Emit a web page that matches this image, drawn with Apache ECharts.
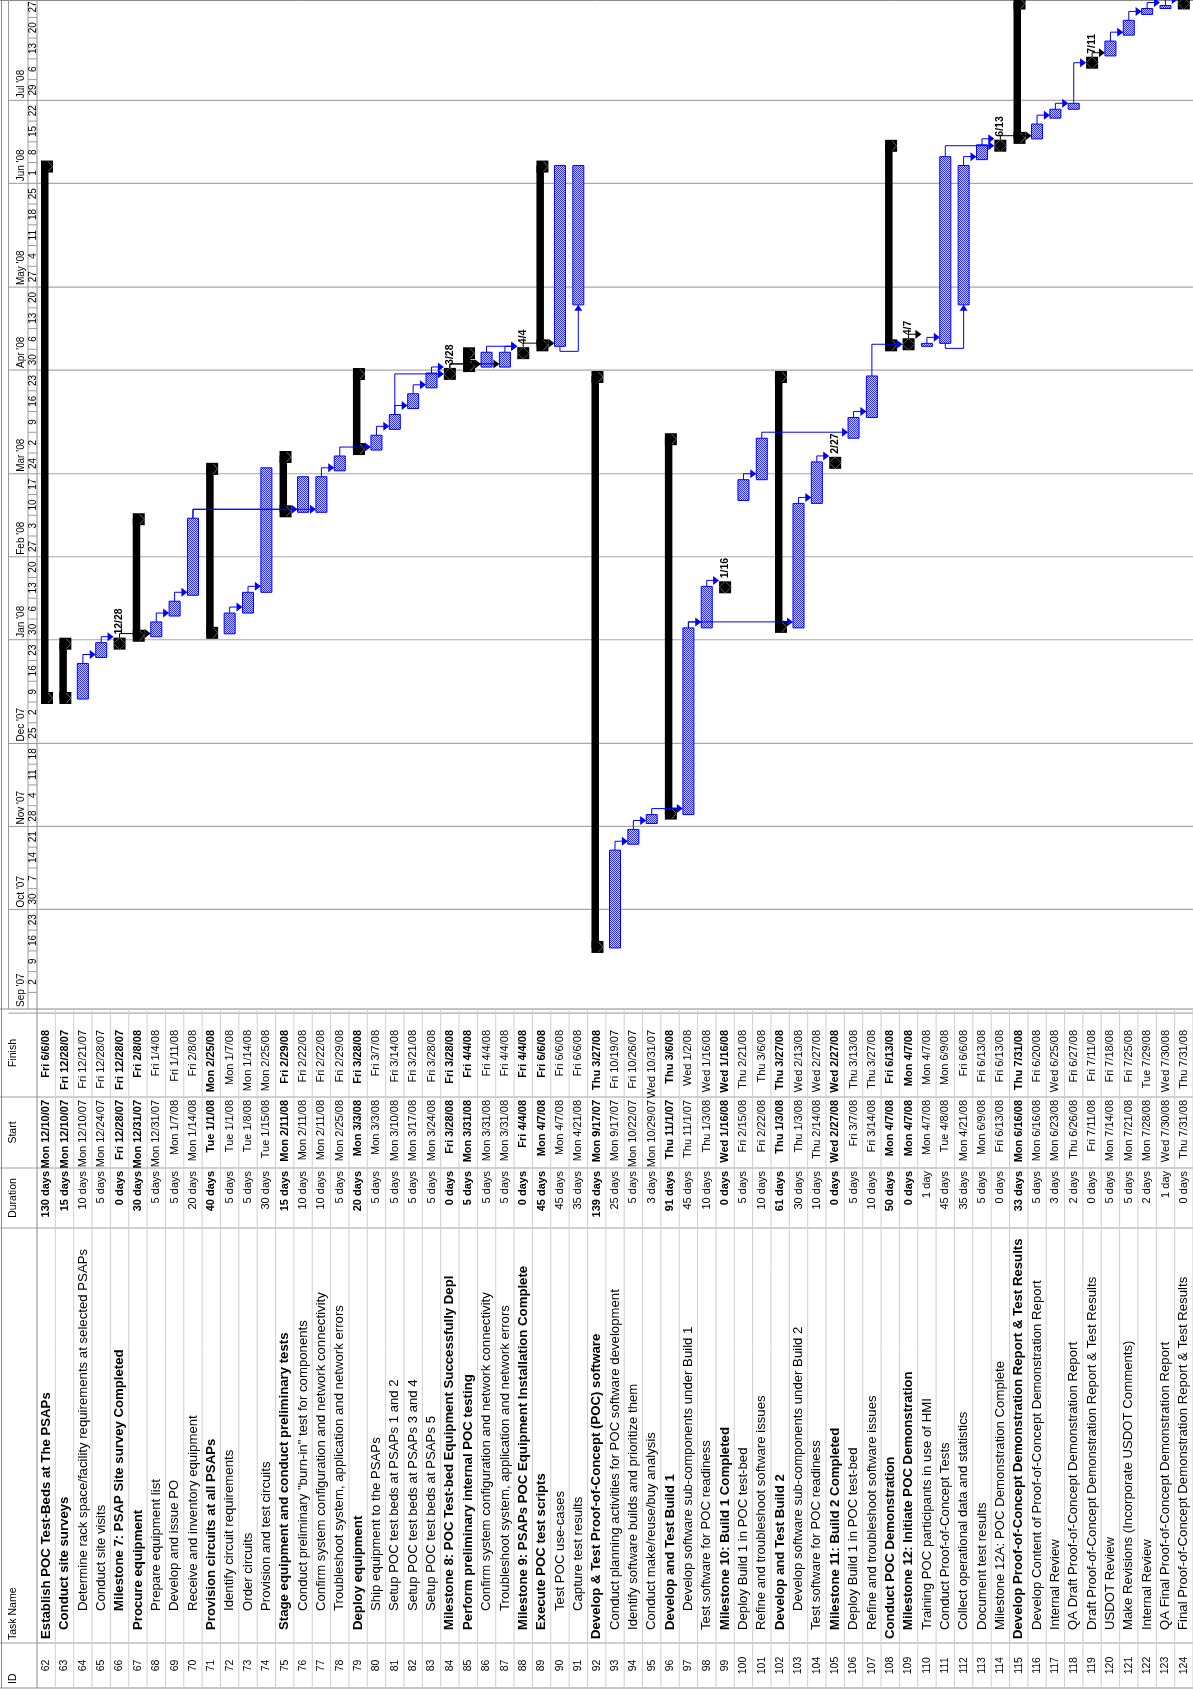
<!DOCTYPE html>
<html>
<head>
<meta charset="utf-8">
<script src="https://cdn.jsdelivr.net/npm/echarts@6/dist/echarts.min.js"></script>
<style>html,body{margin:0;padding:0;background:#fff}#c{width:1193px;height:1690px}</style>
</head>
<body>
<div id="c"></div>
<script>
// ---------------- DATA ----------------
const taskIds = [62,63,64,65,66,67,68,69,70,71,72,73,74,75,76,77,78,79,80,81,82,83,84,85,86,87,88,89,90,91,92,93,94,95,96,97,98,99,100,101,102,103,104,105,106,107,108,109,110,111,112,113,114,115,116,117,118,119,120,121,122,123,124];
const taskNames = [
 'Establish POC Test-Beds at The PSAPs','Conduct site surveys','Determine rack space/facility requirements at selected PSAPs','Conduct site visits','Milestone 7: PSAP Site survey Completed',
 'Procure equipment','Prepare equipment list','Develop and issue PO','Receive and inventory equipment','Provision circuits at all PSAPs',
 'Identify circuit requirements','Order circuits','Provision and test circuits','Stage equipment and conduct preliminary tests','Conduct preliminary "burn-in" test for components',
 'Confirm system configuration and network connectivity','Troubleshoot system, application and network errors','Deploy equipment','Ship equipment to the PSAPs','Setup POC test beds at PSAPs 1 and 2',
 'Setup POC test beds at PSAPs 3 and 4','Setup POC test beds at PSAPs 5','Milestone 8: POC Test-bed Equipment Successfully Depl','Perform preliminary internal POC testing','Confirm system configuration and network connectivity',
 'Troubleshoot system, application and network errors','Milestone 9: PSAPs POC Equipment Installation Complete','Execute POC test scripts','Test POC use-cases','Capture test results',
 'Develop & Test Proof-of-Concept (POC) software','Conduct planning activities for POC software development','Identify software builds and prioritize them','Conduct make/reuse/buy analysis','Develop and Test Build 1',
 'Develop software sub-components under Build 1','Test software for POC readiness','Milestone 10: Build 1 Completed','Deploy Build 1 in POC test-bed','Refine and troubleshoot software issues',
 'Develop and Test Build 2','Develop software sub-components under Build 2','Test software for POC readiness','Milestone 11: Build 2 Completed','Deploy Build 1 in POC test-bed',
 'Refine and troubleshoot software issues','Conduct POC Demonstration','Milestone 12: Initiate POC Demonstration','Training POC participants in use of HMI','Conduct Proof-of-Concept Tests',
 'Collect operational data and statistics','Document test results','Milestone 12A: POC Demonstration Complete','Develop Proof-of-Concept Demonstration Report & Test Results','Develop Content of Proof-of-Concept Demonstration Report',
 'Internal Review','QA Draft Proof-of-Concept Demonstration Report','Draft Proof-of-Concept Demonstration Report & Test Results','USDOT Review','Make Revisions (Incorporate USDOT Comments)',
 'Internal Review','QA Final Proof-of-Concept Demonstration Report','Final Proof-of-Concept Demonstration Report & Test Results'];
const durations = ['130 days','15 days','10 days','5 days','0 days','30 days','5 days','5 days','20 days','40 days','5 days','5 days','30 days','15 days','10 days','10 days','5 days','20 days','5 days','5 days','5 days','5 days','0 days','5 days','5 days','5 days','0 days','45 days','45 days','35 days','139 days','25 days','5 days','3 days','91 days','45 days','10 days','0 days','5 days','10 days','61 days','30 days','10 days','0 days','5 days','10 days','50 days','0 days','1 day','45 days','35 days','5 days','0 days','33 days','5 days','3 days','2 days','0 days','5 days','5 days','2 days','1 day','0 days'];
const starts = ['Mon 12/10/07','Mon 12/10/07','Mon 12/10/07','Mon 12/24/07','Fri 12/28/07','Mon 12/31/07','Mon 12/31/07','Mon 1/7/08','Mon 1/14/08','Tue 1/1/08','Tue 1/1/08','Tue 1/8/08','Tue 1/15/08','Mon 2/11/08','Mon 2/11/08','Mon 2/11/08','Mon 2/25/08','Mon 3/3/08','Mon 3/3/08','Mon 3/10/08','Mon 3/17/08','Mon 3/24/08','Fri 3/28/08','Mon 3/31/08','Mon 3/31/08','Mon 3/31/08','Fri 4/4/08','Mon 4/7/08','Mon 4/7/08','Mon 4/21/08','Mon 9/17/07','Mon 9/17/07','Mon 10/22/07','Mon 10/29/07','Thu 11/1/07','Thu 11/1/07','Thu 1/3/08','Wed 1/16/08','Fri 2/15/08','Fri 2/22/08','Thu 1/3/08','Thu 1/3/08','Thu 2/14/08','Wed 2/27/08','Fri 3/7/08','Fri 3/14/08','Mon 4/7/08','Mon 4/7/08','Mon 4/7/08','Tue 4/8/08','Mon 4/21/08','Mon 6/9/08','Fri 6/13/08','Mon 6/16/08','Mon 6/16/08','Mon 6/23/08','Thu 6/26/08','Fri 7/11/08','Mon 7/14/08','Mon 7/21/08','Mon 7/28/08','Wed 7/30/08','Thu 7/31/08'];
const finishes = ['Fri 6/6/08','Fri 12/28/07','Fri 12/21/07','Fri 12/28/07','Fri 12/28/07','Fri 2/8/08','Fri 1/4/08','Fri 1/11/08','Fri 2/8/08','Mon 2/25/08','Mon 1/7/08','Mon 1/14/08','Mon 2/25/08','Fri 2/29/08','Fri 2/22/08','Fri 2/22/08','Fri 2/29/08','Fri 3/28/08','Fri 3/7/08','Fri 3/14/08','Fri 3/21/08','Fri 3/28/08','Fri 3/28/08','Fri 4/4/08','Fri 4/4/08','Fri 4/4/08','Fri 4/4/08','Fri 6/6/08','Fri 6/6/08','Fri 6/6/08','Thu 3/27/08','Fri 10/19/07','Fri 10/26/07','Wed 10/31/07','Thu 3/6/08','Wed 1/2/08','Wed 1/16/08','Wed 1/16/08','Thu 2/21/08','Thu 3/6/08','Thu 3/27/08','Wed 2/13/08','Wed 2/27/08','Wed 2/27/08','Thu 3/13/08','Thu 3/27/08','Fri 6/13/08','Mon 4/7/08','Mon 4/7/08','Mon 6/9/08','Fri 6/6/08','Fri 6/13/08','Fri 6/13/08','Thu 7/31/08','Fri 6/20/08','Wed 6/25/08','Fri 6/27/08','Fri 7/11/08','Fri 7/18/08','Fri 7/25/08','Tue 7/29/08','Wed 7/30/08','Thu 7/31/08'];
// S = summary, T = task, M = milestone
const taskKinds = ['S','S','T','T','M','S','T','T','T','S','T','T','T','S','T','T','T','S','T','T','T','T','M','S','T','T','M','S','T','T','S','T','T','T','S','T','T','M','T','T','S','T','T','M','T','T','S','M','T','T','T','T','M','S','T','T','T','M','T','T','T','T','M'];
const outlineLevels = [1,2,3,3,3,2,3,3,3,2,3,3,3,2,3,3,3,2,3,3,3,3,2,2,3,3,2,2,3,3,1,2,2,2,2,3,2,2,2,2,2,3,2,2,2,2,1,2,2,2,2,2,2,1,2,2,2,2,2,2,2,2,2];
const boldIds = [62,63,66,67,71,75,79,84,85,88,89,92,96,99,102,105,108,109,115];
// links: predecessor -> successor
const linkFrom = [64,65,66,68,69,70,70,72,73,77,78,80,81,82,83,81,84,84,86,87,88,93,94,95,97,98,97,100,103,104,101,106,107,109,110,111,112,113,114,116,117,118,119,120,121,122,123,90,111];
const linkTo   = [65,66,68,69,70,76,77,73,74,78,80,81,82,83,84,84,86,87,88,88,90,94,95,97,98,99,103,101,104,105,106,107,109,110,111,114,113,114,116,117,118,119,120,121,122,123,124,91,112];
const linkTypes= ['FS','FS','FS','FS','FS','FS','FS','FS','FS','FS','FS','FS','FS','FS','FS','FS','FS','FS','FS','FS','FS','FS','FS','FS','FS','FS','FS','FS','FS','FS','FS','FS','FS','FS','FS','FS','FS','FS','FS','FS','FS','FS','FS','FS','FS','FS','FS','SS','SS'];
// timescale
const weekLabels = ['2','9','16','23','30','7','14','21','28','4','11','18','25','2','9','16','23','30','6','13','20','27','3','10','17','24','2','9','16','23','30','6','13','20','27','4','11','18','25','1','8','15','22','29','6','13','20','27'];
const monthLabels = ["Sep '07","Oct '07","Nov '07","Dec '07","Jan '08","Feb '08","Mar '08","Apr '08","May '08","Jun '08","Jul '08"];
const monthStarts = ['8/26/07','9/30/07','10/28/07','11/25/07','12/30/07','1/27/08','2/24/08','3/30/08','4/27/08','6/1/08','6/29/08'];
const tableHeaders = ['ID','Task Name','Duration','Start','Finish'];

// ---------------- LAYOUT ----------------
const W = 1193, H = 1690;
const GRID_LEFT = 37;
const TL_BOTTOM = 1009;          // bottom of timeline area
const Y_DAY0 = 992.4, PX_DAY = 2.9636;
const AX_MIN = (Y_DAY0 - TL_BOTTOM) / PX_DAY, AX_MAX = Y_DAY0 / PX_DAY;
const COLS = { finish: [1009, 1097], start: [1097, 1168], dur: [1168, 1228], task: [1228, 1643], id: [1643, 1688] };
const PAD = { finish: 21, start: 3, dur: 3 };
const FONT = '"Liberation Sans", Arial, Helvetica, sans-serif';
const FS = 11, FS_NAME = 13.2, FS_ID = 10.5;
const INDENT = {1: 4, 2: 13, 3: 32};

const DAY0 = Date.UTC(2007, 8, 2);
function toDay(str) {
  const m = str.match(/(\d+)\/(\d+)\/(\d+)/);
  return (Date.UTC(2000 + (+m[3]), +m[1] - 1, +m[2]) - DAY0) / 864e5;
}
const startDays = starts.map(toDay), finishDays = finishes.map(toDay);
const idx = id => taskIds.indexOf(id);

const pat = (function () {
  const c = document.createElement('canvas'); c.width = 2; c.height = 2;
  const g = c.getContext('2d');
  g.fillStyle = '#cacaff'; g.fillRect(0, 0, 2, 2);
  g.fillStyle = '#3434ff'; g.fillRect(0, 0, 1, 1); g.fillRect(1, 1, 1, 1);
  return c;
})();

function rtext(x, y, text, opt) {
  return { type: 'text', x: x, y: y, rotation: Math.PI / 2, silent: true,
    style: Object.assign({ text: text, fill: '#000', font: FS + 'px ' + FONT, align: 'left', verticalAlign: 'middle' }, opt || {}) };
}

// ---------------- RENDERERS ----------------
function renderTask(params, api) {
  const i = api.value(0), s = api.value(1), f = api.value(2);
  const kind = taskKinds[i];
  const bw = api.size([1, 0])[0];
  const pS = api.coord([i, s]);
  const cx = pS[0], left = cx - bw / 2;
  const ch = [];
  if (kind === 'T') {
    const yB = pS[1], yT = api.coord([i, f + 1])[1];
    ch.push({ type: 'rect', shape: { x: cx - 5.5, y: yT, width: 11, height: yB - yT },
      style: { fill: { image: pat, repeat: 'repeat' }, stroke: '#0000ff', lineWidth: 1 } });
  } else if (kind === 'S') {
    const yB = pS[1], yT = api.coord([i, f + 1])[1];
    ch.push({ type: 'rect', shape: { x: left + 4, y: yT, width: 7.5, height: yB - yT }, style: { fill: '#000' } });
    [yT - 5, yB - 7].forEach(function (y0) {
      ch.push({ type: 'rect', shape: { x: left + 4, y: y0, width: 12, height: 12 }, style: { fill: '#000' } });
      ch.push({ type: 'polyline', shape: { points: [[left + 11, y0 + 1], [left + 15.5, y0 + 6], [left + 11, y0 + 11]] },
        style: { fill: 'none', stroke: '#6a6a6a', lineWidth: 1 } });
    });
  } else {
    const yM = api.coord([i, f + 0.7])[1];
    ch.push({ type: 'rect', shape: { x: cx - 6, y: yM - 6, width: 12, height: 12 }, style: { fill: '#000' } });
    ch.push({ type: 'polygon', shape: { points: [[cx, yM - 6], [cx + 6, yM], [cx, yM + 6], [cx - 6, yM]] },
      style: { fill: 'none', stroke: '#5a5a5a', lineWidth: 1 } });
    const md = finishes[i].split(' ')[1].split('/').slice(0, 2).join('/');
    ch.push(rtext(cx, yM - 9, md, { font: 'bold 10.5px ' + FONT }));
  }
  return { type: 'group', children: ch };
}

function renderLink(params, api) {
  const p = api.value(0), q = api.value(1);
  const type = linkTypes[params.dataIndex];
  const color = taskKinds[p] === 'T' ? '#0000ff' : '#000000';
  const px = api.coord([p, 0])[0], qx = api.coord([q, 0])[0];
  const ch = [];
  if (type === 'SS') {
    const y0 = api.coord([p, startDays[p]])[1];
    const y1 = api.coord([q, startDays[q]])[1];
    ch.push({ type: 'polyline', shape: { points: [[px, y0], [px, y0 + 5], [qx, y0 + 5], [qx, y1 + 5]] },
      style: { stroke: color, lineWidth: 1, fill: 'none' } });
    ch.push({ type: 'polygon', shape: { points: [[qx - 4, y1 + 6], [qx, y1], [qx + 4, y1 + 6]] }, style: { fill: color } });
  } else {
    let y0, hook;
    if (taskKinds[p] === 'M') { y0 = api.coord([p, finishDays[p] + 0.7])[1] - 6; hook = y0 - 4; }
    else { y0 = api.coord([p, finishDays[p] + 1])[1]; hook = y0 - 6; }
    let yl, tx;
    if (taskKinds[q] === 'M') {
      const yM = api.coord([q, finishDays[q] + 0.7])[1];
      yl = Math.min(hook, yM); tx = qx - 6;
    } else {
      const ys = api.coord([q, startDays[q]])[1];
      yl = Math.min(hook, ys - 3); tx = qx - 5.5;
    }
    ch.push({ type: 'polyline', shape: { points: [[px, y0], [px, yl], [tx - 5, yl]] },
      style: { stroke: color, lineWidth: 1, fill: 'none' } });
    ch.push({ type: 'polygon', shape: { points: [[tx - 6, yl - 4.5], [tx, yl], [tx - 6, yl + 4.5]] }, style: { fill: color } });
  }
  return { type: 'group', children: ch };
}

function renderWeek(params, api) {
  const k = api.value(0);
  const yB = api.coord([0, 7 * k])[1], yT = api.coord([0, 7 * k + 7])[1];
  const ch = [{ type: 'line', shape: { x1: 28, y1: yB, x2: GRID_LEFT, y2: yB }, style: { stroke: '#9a9a9a', lineWidth: 1 } }];
  if (k >= 0 && weekLabels[k] !== undefined) {
    ch.push(rtext(33, (yB + yT) / 2, weekLabels[k], { align: 'center', font: '10px ' + FONT }));
  }
  return { type: 'group', children: ch };
}

function renderMonth(params, api) {
  const m = api.value(0);
  const y = api.coord([0, toDay(monthStarts[m])])[1];
  const ch = [
    { type: 'line', shape: { x1: 8.5, y1: y, x2: 28, y2: y }, style: { stroke: '#9a9a9a', lineWidth: 1 } },
    { type: 'line', shape: { x1: GRID_LEFT, y1: y, x2: W, y2: y }, style: { stroke: '#a8a8a8', lineWidth: 1.2 } },
    rtext(21, Math.min(y, TL_BOTTOM) - 2, monthLabels[m], { font: '10px ' + FONT })
  ];
  return { type: 'group', children: ch };
}

function renderRow(params, api) {
  const i = api.value(0);
  const bw = api.size([1, 0])[0];
  const cx = api.coord([i, 0])[0];
  const right = cx + bw / 2;
  const bold = boldIds.indexOf(taskIds[i]) >= 0;
  const b = bold ? 'bold ' : '';
  const ind = INDENT[outlineLevels[i]];
  return { type: 'group', children: [
    { type: 'line', shape: { x1: right, y1: TL_BOTTOM, x2: right, y2: COLS.id[1] }, style: { stroke: '#cfcfcf', lineWidth: 1 } },
    rtext(cx, (COLS.id[0] + COLS.id[1]) / 2, String(taskIds[i]), { align: 'center', font: FS_ID + 'px ' + FONT }),
    { type: 'group',
      clipPath: { type: 'rect', shape: { x: cx - bw / 2, y: COLS.task[0] + 1, width: bw, height: COLS.task[1] - COLS.task[0] - 1 } },
      children: [rtext(cx, COLS.task[1] - ind, taskNames[i], { font: b + FS_NAME + 'px ' + FONT })] },
    rtext(cx, COLS.dur[0] + PAD.dur, durations[i], { font: b + FS + 'px ' + FONT, align: 'right' }),
    rtext(cx, COLS.start[0] + PAD.start, starts[i], { font: b + FS + 'px ' + FONT, align: 'right' }),
    rtext(cx, COLS.finish[0] + PAD.finish, finishes[i], { font: b + FS + 'px ' + FONT, align: 'right' })
  ] };
}

// ---------------- STATIC FRAME ----------------
const frame = [];
function hline(y, x1, x2, c, w) { frame.push({ type: 'line', silent: true, shape: { x1: x1, y1: y, x2: x2, y2: y }, style: { stroke: c, lineWidth: w || 1 } }); }
function vline(x, y1, y2, c, w) { frame.push({ type: 'line', silent: true, shape: { x1: x, y1: y1, x2: x, y2: y2 }, style: { stroke: c, lineWidth: w || 1 } }); }
hline(0.5, 0, W, '#8a8a8a');
hline(TL_BOTTOM, 0, W, '#8a8a8a');
[COLS.start[0], COLS.dur[0], COLS.task[0], COLS.id[0]].forEach(function (y) { hline(y, 0, W, '#a0a0a0'); });
hline(COLS.id[1], 0, W, '#8a8a8a');
vline(1.5, 0, COLS.id[1], '#8a8a8a');
vline(8.5, 0, TL_BOTTOM, '#9a9a9a');
vline(28, 0, TL_BOTTOM, '#9a9a9a');
vline(GRID_LEFT, 0, COLS.id[1], '#8a8a8a');
const hdr = (x, y, t, al) => frame.push({ type: 'text', silent: true, x: x, y: y, rotation: Math.PI / 2,
  style: { text: t, fill: '#000', font: '10.5px ' + FONT, align: al, verticalAlign: 'middle' } });
hdr(13, COLS.id[1] - 4, tableHeaders[0], 'left');
hdr(13, COLS.task[1] - 3, tableHeaders[1], 'left');
hdr(13, (COLS.dur[0] + COLS.dur[1]) / 2, tableHeaders[2], 'center');
hdr(13, (COLS.start[0] + COLS.start[1]) / 2, tableHeaders[3], 'center');
hdr(13, (COLS.finish[0] + COLS.finish[1]) / 2, tableHeaders[4], 'center');

// ---------------- CHART ----------------
const chart = echarts.init(document.getElementById('c'), null, { renderer: 'canvas' });
chart.setOption({
  animation: false,
  backgroundColor: '#ffffff',
  grid: { left: GRID_LEFT, right: 0, top: 0, bottom: H - TL_BOTTOM },
  xAxis: { type: 'category', data: taskIds.map(String), boundaryGap: true, show: false },
  yAxis: { type: 'value', min: AX_MIN, max: AX_MAX, show: false },
  graphic: { elements: frame },
  series: [
    { type: 'custom', name: 'months', renderItem: renderMonth, clip: false, silent: true, z: 1,
      data: monthLabels.map((_, m) => [m]) },
    { type: 'custom', name: 'weeks', renderItem: renderWeek, clip: false, silent: true, z: 1,
      data: [-1].concat(weekLabels.map((_, k) => k)).map(k => [k]) },
    { type: 'custom', name: 'table', renderItem: renderRow, clip: false, silent: true, z: 2,
      data: taskIds.map((_, i) => [i]) },
    { type: 'custom', name: 'tasks', renderItem: renderTask, clip: true, silent: true, z: 3,
      data: taskIds.map((_, i) => [i, startDays[i], finishDays[i]]) },
    { type: 'custom', name: 'links', renderItem: renderLink, clip: true, silent: true, z: 4,
      data: linkFrom.map((p, k) => [idx(p), idx(linkTo[k])]) }
  ]
});
</script>
</body>
</html>
